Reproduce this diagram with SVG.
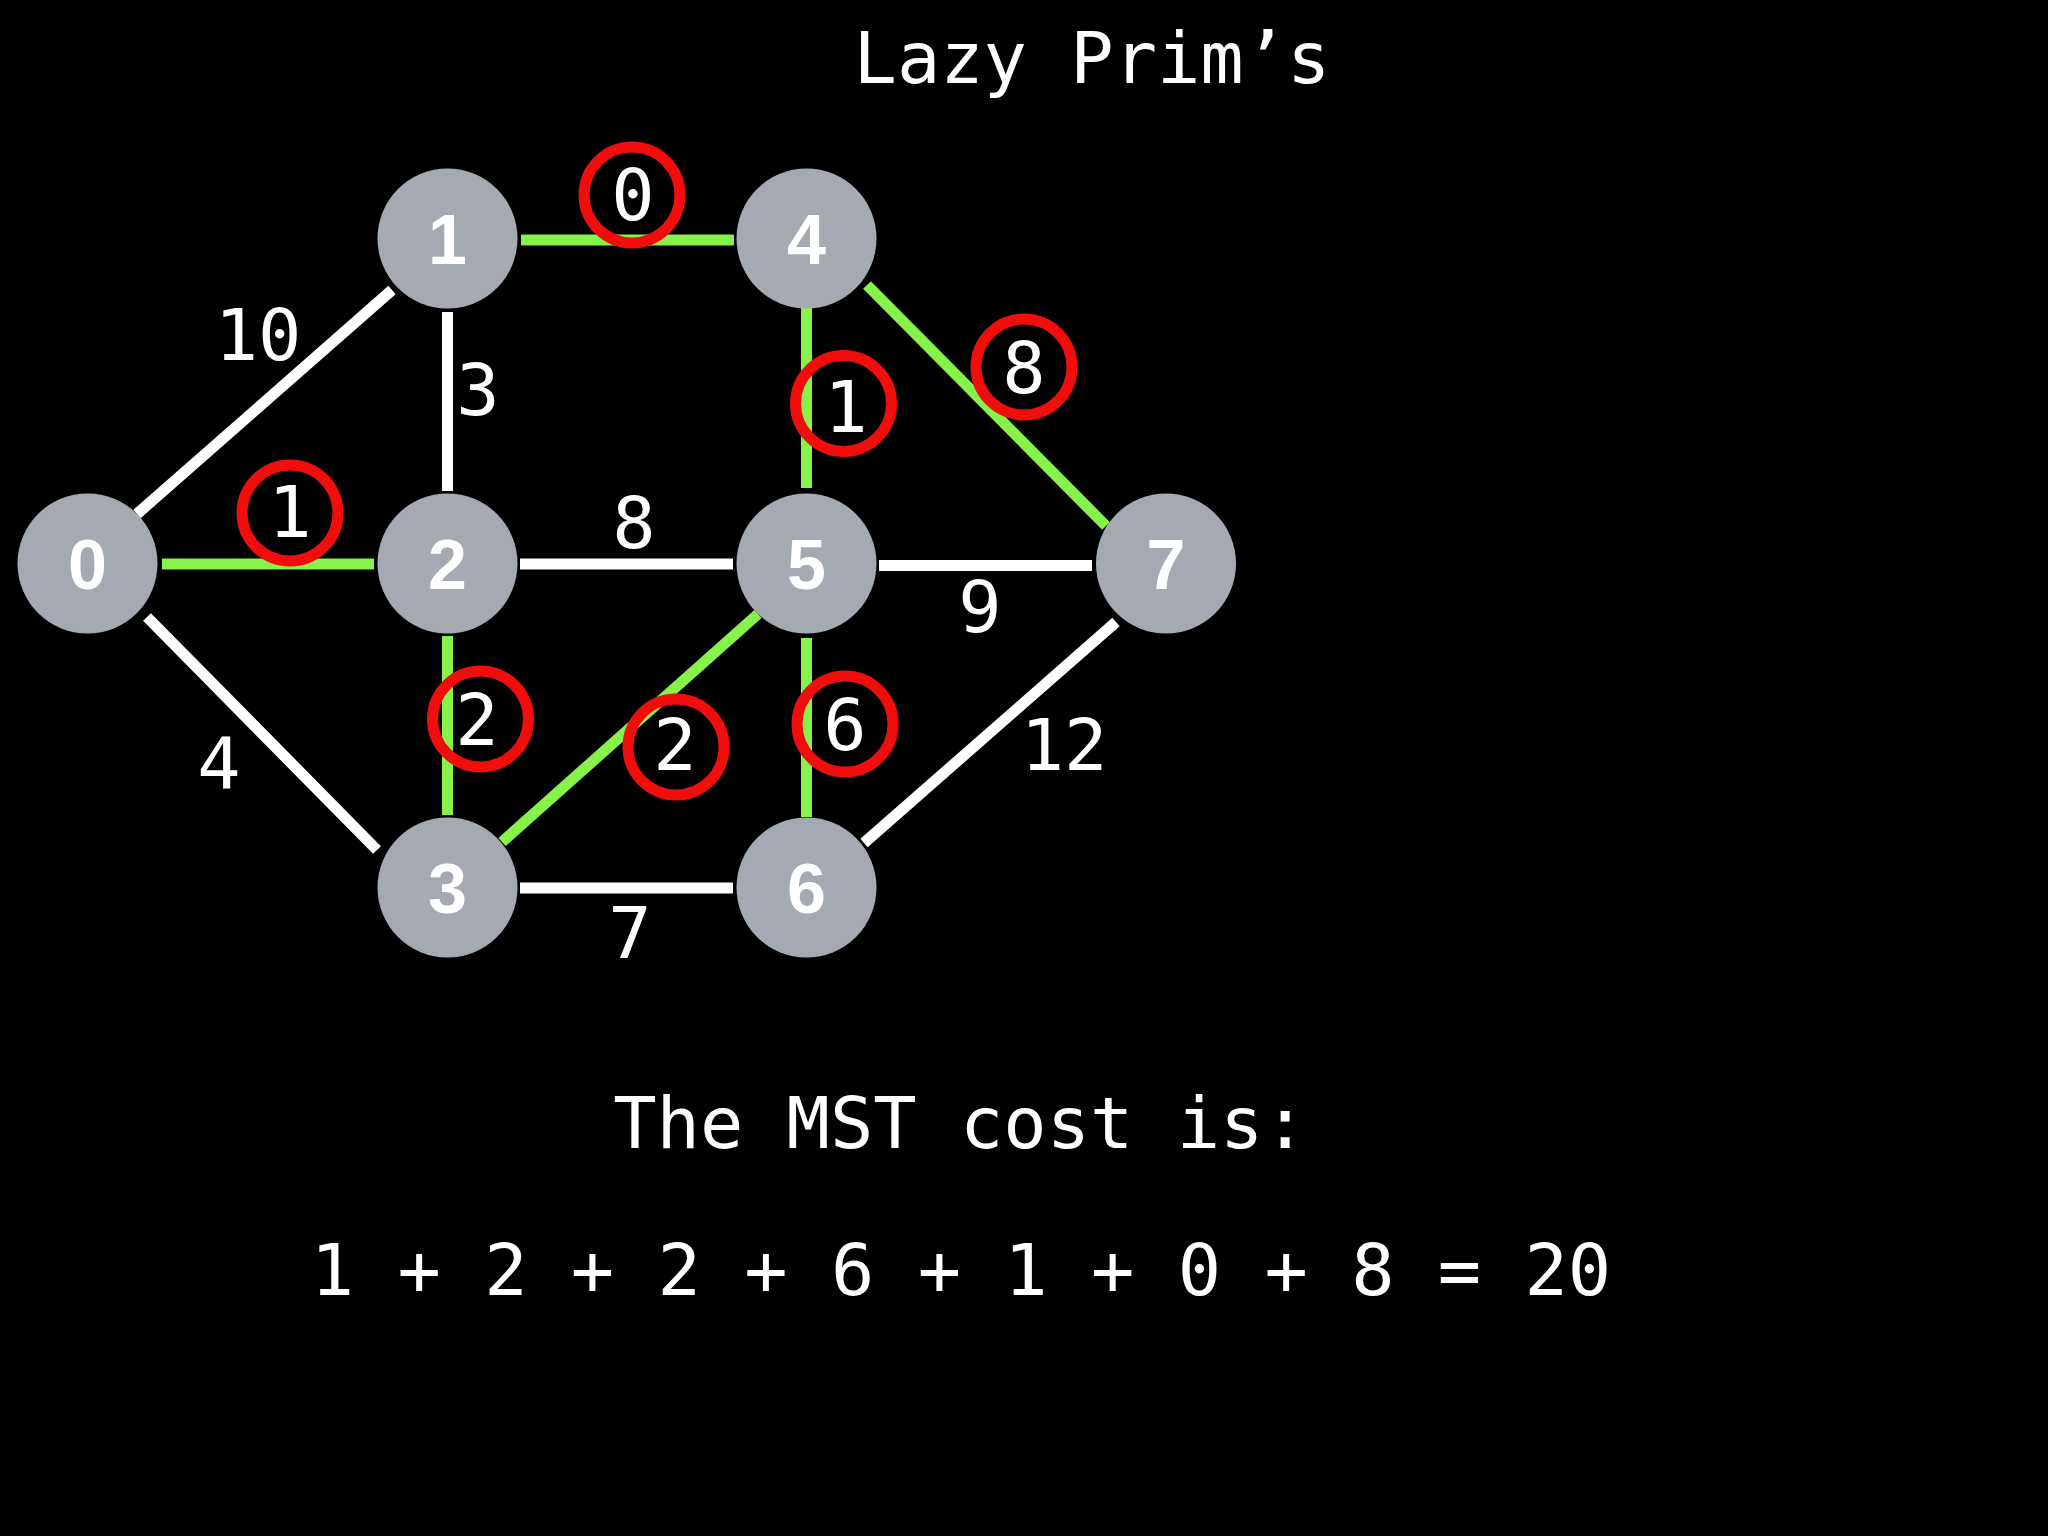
<svg xmlns="http://www.w3.org/2000/svg" width="2048" height="1536" viewBox="0 0 2048 1536">
<style>
.bg{fill:#000}
.e{stroke-width:11;stroke-linecap:butt;fill:none}
.w{stroke:#ffffff}
.g{stroke:#86f24a}
.node circle{fill:#a4a9b2}
.node text{font-family:"Liberation Sans",Arial,sans-serif;font-weight:bold;font-size:70px;fill:#fff;text-anchor:middle}
.lbl{font-family:"DejaVu Sans Mono","Liberation Mono",monospace;font-size:72px;fill:#fff;text-anchor:middle}
.mark{fill:none;stroke:#f20d0d;stroke-width:11}
</style>
<rect class="bg" x="0" y="0" width="2048" height="1536"/>
<text class="lbl" x="1092" y="83">Lazy Prim’s</text>
<g id="connectors">
<line class="e w" x1="137" y1="514" x2="392" y2="290"/>
<line class="e w" x1="447.5" y1="312" x2="447.5" y2="491"/>
<line class="e g" x1="162" y1="564" x2="374" y2="564"/>
<line class="e w" x1="147" y1="617" x2="377" y2="850"/>
<line class="e g" x1="521" y1="240" x2="734" y2="240"/>
<line class="e w" x1="520" y1="564" x2="733" y2="564"/>
<line class="e g" x1="447.5" y1="636" x2="447.5" y2="815"/>
<line class="e g" x1="502" y1="842" x2="758" y2="614"/>
<line class="e w" x1="520" y1="888" x2="733" y2="888"/>
<line class="e g" x1="806.5" y1="308" x2="806.5" y2="488"/>
<line class="e g" x1="867" y1="285" x2="1106" y2="526"/>
<line class="e w" x1="879" y1="565.5" x2="1092" y2="565.5"/>
<line class="e g" x1="806.5" y1="638" x2="806.5" y2="817"/>
<line class="e w" x1="864" y1="843" x2="1116" y2="622"/>
</g>
<g id="weights">
<text class="lbl" x="258" y="360">10</text>
<text class="lbl" x="478" y="415">3</text>
<text class="lbl" x="634" y="548">8</text>
<text class="lbl" x="980" y="632">9</text>
<text class="lbl" x="219" y="788">4</text>
<text class="lbl" x="630" y="958">7</text>
<text class="lbl" x="1064" y="770">12</text>
</g>
<g id="mst-marks">
<circle class="mark" cx="632" cy="195" r="48"/>
<text class="lbl" x="633" y="220">0</text>
<circle class="mark" cx="290" cy="513" r="48"/>
<text class="lbl" x="290" y="537">1</text>
<circle class="mark" cx="843.5" cy="403.5" r="48"/>
<text class="lbl" x="846" y="432">1</text>
<circle class="mark" cx="1024" cy="367" r="48"/>
<text class="lbl" x="1024" y="393">8</text>
<circle class="mark" cx="480.5" cy="719" r="48"/>
<text class="lbl" x="477" y="745">2</text>
<circle class="mark" cx="676" cy="747" r="48"/>
<text class="lbl" x="675" y="770">2</text>
<circle class="mark" cx="845" cy="724" r="48"/>
<text class="lbl" x="845" y="750">6</text>
</g>
<g id="node0" class="node"><circle cx="87.5" cy="563.5" r="70"/><text x="87.5" y="588.5">0</text></g>
<g id="node1" class="node"><circle cx="447.5" cy="238.5" r="70"/><text x="447.5" y="263.5">1</text></g>
<g id="node2" class="node"><circle cx="447.5" cy="563.5" r="70"/><text x="447.5" y="588.5">2</text></g>
<g id="node3" class="node"><circle cx="447.5" cy="887.5" r="70"/><text x="447.5" y="912.5">3</text></g>
<g id="node4" class="node"><circle cx="806.5" cy="238.5" r="70"/><text x="806.5" y="263.5">4</text></g>
<g id="node5" class="node"><circle cx="806.5" cy="563.5" r="70"/><text x="806.5" y="588.5">5</text></g>
<g id="node6" class="node"><circle cx="806.5" cy="887.5" r="70"/><text x="806.5" y="912.5">6</text></g>
<g id="node7" class="node"><circle cx="1166" cy="563.5" r="70"/><text x="1166" y="588.5">7</text></g>
<text class="lbl" x="960" y="1148">The MST cost is:</text>
<text class="lbl" x="961" y="1295">1 + 2 + 2 + 6 + 1 + 0 + 8 = 20</text>
</svg>
